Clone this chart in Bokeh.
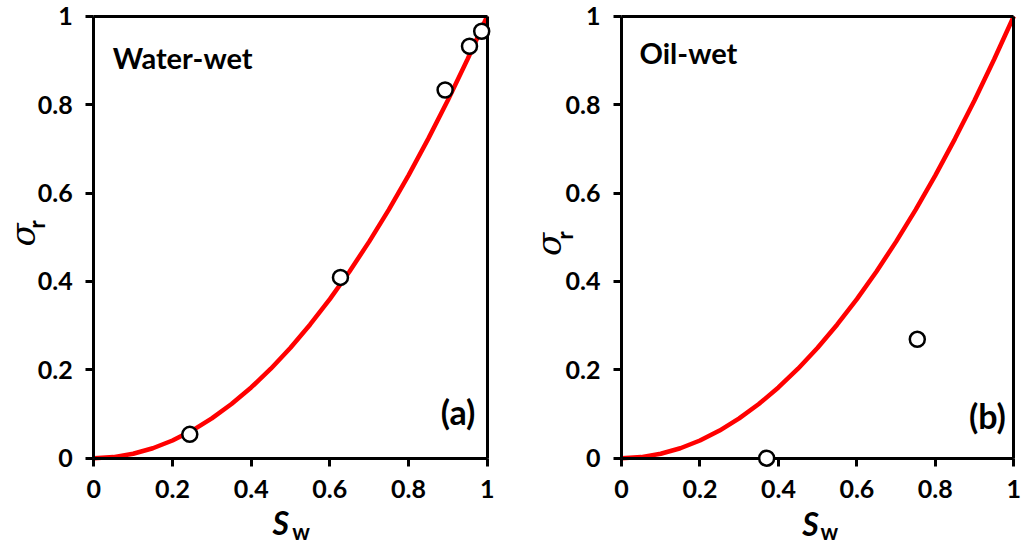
import math
from bokeh.plotting import figure
from bokeh.layouts import row
from bokeh.models import Label, FixedTicker, Range1d, LinearAxis
from bokeh.embed import file_html
from bokeh.resources import INLINE

# ---- data ----
sw_curve = [0.0, 0.05, 0.10, 0.15, 0.20, 0.25, 0.30, 0.35, 0.40, 0.45, 0.50,
            0.55, 0.60, 0.65, 0.70, 0.75, 0.80, 0.85, 0.90, 0.95, 1.0]
sigma_curve = [0.0, 0.0025, 0.01, 0.0225, 0.04, 0.0625, 0.09, 0.1225, 0.16, 0.2025, 0.25,
               0.3025, 0.36, 0.4225, 0.49, 0.5625, 0.64, 0.7225, 0.81, 0.9025, 1.0]

ww_sw = [0.244, 0.627, 0.893, 0.955, 0.986]
ww_sigma = [0.054, 0.409, 0.833, 0.932, 0.966]

ow_sw = [0.37, 0.754]
ow_sigma = [0.0, 0.269]

tick_values = [0, 0.2, 0.4, 0.6, 0.8, 1]
tick_labels = ["0", "0.2", "0.4", "0.6", "0.8", "1"]

FONT = "Lato"
H = 548


def make_panel(pts_x, pts_y, title, tag, width, x0_px, x1_px,
               sig_pos, r_pos, s_pos, w_pos, title_pos, tag_pos):
    y0_px, y1_px = 457.7, 15.7  # pixel rows of sigma=0 and sigma=1
    sx = x1_px - x0_px
    sy = y0_px - y1_px
    xr = Range1d(-x0_px / sx, (width - x0_px) / sx)
    yr = Range1d(-(H - y0_px) / sy, 1 + y1_px / sy)
    p = figure(width=width, height=H, x_range=xr, y_range=yr, title=None,
               output_backend="svg", toolbar_location=None,
               min_border=0, min_border_left=0, min_border_right=0,
               min_border_top=0, min_border_bottom=0)
    p.grid.visible = False
    p.outline_line_color = None
    p.background_fill_color = "white"
    p.border_fill_color = "white"

    for ax in (p.xaxis[0], p.yaxis[0]):
        ax.fixed_location = 0
        ax.bounds = (0, 1)
        ax.ticker = FixedTicker(ticks=tick_values)
        ax.major_label_overrides = {v: s for v, s in zip(tick_values, tick_labels)}
        ax.minor_tick_line_color = None
        ax.axis_line_width = 3
        ax.axis_line_color = "black"
        ax.major_tick_line_width = 3
        ax.major_tick_line_color = "black"
        ax.major_tick_out = 8
        ax.major_tick_in = 0
        ax.major_label_text_font = FONT
        ax.major_label_text_font_style = "bold"
        ax.major_label_text_font_size = "25px"
        ax.major_label_text_color = "black"
    p.xaxis[0].major_label_standoff = 14
    p.yaxis[0].major_label_standoff = 13

    # frame borders (top and right) as plain axes without ticks
    for loc in ("above", "right"):
        b = LinearAxis(fixed_location=1, bounds=(0, 1), axis_line_width=3,
                       axis_line_color="black", major_tick_line_color=None,
                       minor_tick_line_color=None, major_label_text_font_size="0px",
                       major_label_text_color=None)
        p.add_layout(b, loc)

    p.line(sw_curve, sigma_curve, line_color="red", line_width=4.5)
    p.scatter(pts_x, pts_y, size=15, marker="circle", fill_color="white",
              line_color="black", line_width=2.5, level="overlay")

    p.add_layout(Label(x=sig_pos[0], y=sig_pos[1], text="σ", angle=math.pi / 2,
                       text_font="DejaVu Serif", text_font_style="italic",
                       text_font_size="34px", text_align="center",
                       text_baseline="middle", text_color="black"))
    p.add_layout(Label(x=r_pos[0], y=r_pos[1], text="r", angle=math.pi / 2,
                       text_font=FONT, text_font_style="bold",
                       text_font_size="22px", text_align="center",
                       text_baseline="middle", text_color="black"))
    p.add_layout(Label(x=s_pos[0], y=s_pos[1], text="S",
                       text_font=FONT, text_font_style="bold italic",
                       text_font_size="32px", text_align="center",
                       text_baseline="middle", text_color="black"))
    p.add_layout(Label(x=w_pos[0], y=w_pos[1], text="w",
                       text_font=FONT, text_font_style="bold",
                       text_font_size="22px", text_align="center",
                       text_baseline="middle", text_color="black"))
    p.add_layout(Label(x=title_pos[0], y=title_pos[1], text=title,
                       text_font=FONT, text_font_style="bold",
                       text_font_size="29px", text_align="left",
                       text_baseline="alphabetic", text_color="black"))
    p.add_layout(Label(x=tag_pos[0], y=tag_pos[1], text=tag,
                       text_font=FONT, text_font_style="bold",
                       text_font_size="34px", text_align="right",
                       text_baseline="middle", text_color="black"))
    return p


p1 = make_panel(ww_sw, ww_sigma, "Water-wet", "(a)", 530, 93.3, 486.7,
                (-0.18, 0.505), (-0.145, 0.529), (0.475, -0.145), (0.527, -0.165),
                (0.048, 0.907), (0.97, 0.106))
p2 = make_panel(ow_sw, ow_sigma, "Oil-wet", "(b)", 491, 91.0, 483.3,
                (-0.186, 0.484), (-0.145, 0.504), (0.482, -0.147), (0.530, -0.165),
                (0.046, 0.918), (0.98, 0.097))

layout = row(p1, p2)
open("out.html", "w").write(file_html(layout, INLINE))
